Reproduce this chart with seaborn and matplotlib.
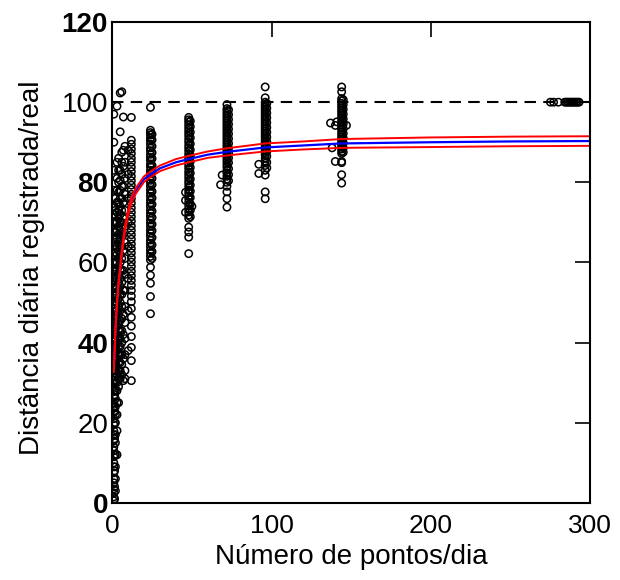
import matplotlib
matplotlib.use("Agg")
import matplotlib.pyplot as plt
import seaborn as sns
import pandas as pd

# número de pontos/dia de cada coluna de pontos
x_cols = [1, 1.5, 2, 3, 4, 5, 6, 7, 8, 10, 12, 24, 25, 48, 49, 72, 73, 96, 97, 144, 145]

# distância diária registrada/real (%), uma lista por coluna
y_1 = [0.5, 1.5, 2.5, 3.5, 5, 6, 7.5, 9, 10, 11.5, 13, 14, 15.5, 17, 18, 19.5, 21, 22.5,
       24, 25, 26.5, 28, 29, 30.5, 31.5, 33, 34, 35, 36.5, 38, 39.5, 41, 43, 45, 47,
       49.5, 52, 55, 58, 62, 66, 70, 74, 78, 83, 90, 97]
y_1b = [1, 4, 8, 12, 16, 20, 23, 27, 30, 32.5, 35.5, 38.5, 42, 44, 46, 48.5, 51, 53.5,
        57, 60, 64, 68, 72]
y_2 = [3, 6, 9, 12, 15, 17, 20, 22, 24, 26, 28, 30, 31.5, 33, 34.5, 36, 37.5, 39, 40.5,
       42, 43.5, 45, 46.5, 48, 50, 52, 54, 56, 58, 60, 62.5, 65, 67.5, 70, 73, 76]
y_3 = [12, 18, 22, 25, 28, 30, 32, 34, 36, 38, 40, 42, 44, 46, 48, 50, 52, 54, 56, 58,
       60, 62, 64, 66, 68, 70, 72.5, 75, 78, 81, 85, 99]
y_4 = [25, 29, 31, 33, 35, 37, 39, 41, 43, 45, 47, 49, 51, 53, 55, 57, 59, 61, 63, 65,
       67, 69, 71, 73, 75, 77.5, 80, 83, 86]
y_5 = [31, 33, 35, 37, 39, 41, 43, 45.5, 48, 50, 52, 54, 56, 58, 60, 62, 64, 66, 68, 70,
       72, 74, 76, 78, 80.5, 83, 92.6, 102.3]
y_6 = [32, 34.5, 37, 40, 43, 46, 49, 52, 55, 58, 61, 64, 67, 70, 73, 76, 79, 82, 85,
       87.5, 102.6]
y_7 = [30.5, 36, 42, 47, 53, 58, 63, 67, 71, 75, 79, 84, 88, 96.3]
y_8 = [31, 33, 37, 41, 45, 49, 53, 57, 61, 65, 69, 73, 77, 81, 85, 89]
y_10 = [38, 48, 56, 64, 70, 76, 82, 88]
y_12 = [96.2, 90.5, 89.5, 88.3, 87.2, 86.0, 85.0, 83.8, 82.7, 81.5, 80.4, 79.3, 78.2,
        77.0, 75.9, 74.8, 73.6, 72.5, 71.4, 70.3, 69.1, 68.0, 66.9, 65.8, 64.6, 63.5,
        62.4, 61.2, 60.1, 59.0, 57.8, 56.7, 55.5, 54.3, 53.0, 51.6, 50.2, 48.5, 46.3,
        44.1, 41.5, 38.8, 35.5, 30.5]
y_24 = [98.7, 93.0, 92.4, 91.8, 91.0, 90.3, 89.5, 88.6, 87.9, 87.0, 86.2, 85.5, 84.6,
        83.9, 83.0, 82.2, 81.4, 80.5, 79.8, 79.0, 78.1, 77.3, 76.5, 75.6, 74.8, 74.0,
        73.1, 72.3, 71.5, 70.6, 69.8, 69.0, 68.1, 67.3, 66.5, 65.6, 64.8, 64.0, 63.1,
        62.3, 61.5, 60.6, 58.8, 56.8, 54.8, 51.5, 47.2]
y_24b = [92.0, 90.6, 89.0, 87.4, 85.9, 84.2, 82.6, 81.0, 79.4, 77.7, 76.1, 74.5, 72.8,
         71.2, 69.5, 67.9, 66.2, 64.4, 62.7, 61.0]
y_48 = [96.2, 95.6, 95.0, 94.3, 93.6, 92.9, 92.2, 91.5, 90.7, 90.0, 89.2, 88.5, 87.8,
        87.0, 86.3, 85.6, 84.8, 84.1, 83.4, 82.6, 81.9, 81.2, 80.4, 79.7, 78.9, 78.1,
        77.4, 76.6, 75.9, 75.0, 74.2, 73.4, 72.6, 71.8, 71.0, 68.8, 67.6, 66.3, 62.2]
y_48b = [95.3, 93.9, 92.5, 91.1, 89.6, 88.1, 86.7, 85.2, 83.7, 82.3, 80.8, 79.3, 77.8,
         76.2, 74.6, 73.0, 71.4]
y_72 = [99.4, 98.4, 97.8, 97.2, 96.6, 96.0, 95.4, 94.8, 94.2, 93.6, 93.0, 92.4, 91.8,
        91.2, 90.6, 90.0, 89.4, 88.8, 88.2, 87.6, 87.0, 86.4, 85.8, 85.2, 84.5, 83.8,
        83.0, 82.3, 81.5, 80.8, 80.0, 79.0, 77.6, 75.9, 73.8]
y_72b = [98.1, 96.9, 95.7, 94.5, 93.3, 92.1, 90.9, 89.7, 88.5, 87.3, 86.1, 84.9, 83.4,
         81.9, 80.4]
y_96 = [103.8, 101.1, 100.0, 99.4, 98.8, 98.2, 97.6, 97.0, 96.4, 95.8, 95.2, 94.6, 94.0,
        93.4, 92.8, 92.2, 91.6, 91.0, 90.4, 89.8, 89.2, 88.6, 88.0, 87.4, 86.8, 86.0,
        85.2, 84.2, 83.0, 81.8, 77.6, 75.9]
y_96b = [99.7, 98.5, 97.3, 96.1, 94.9, 93.7, 92.5, 91.3, 90.1, 88.9, 87.7, 86.5, 85.0,
         83.6]
y_144 = [103.8, 102.6, 100.9, 100.3, 99.7, 99.1, 98.5, 97.9, 97.3, 96.7, 96.1, 95.5,
         94.9, 94.3, 93.7, 93.1, 92.5, 91.9, 91.3, 90.7, 90.1, 89.5, 88.9, 88.3, 87.7,
         87.2, 85.2, 84.9, 81.9, 79.8]
y_144b = [100.6, 99.4, 98.2, 97.0, 95.8, 94.6, 93.4, 92.2, 91.0, 89.8, 88.6, 87.5]

# pontos fora das colunas
extra_x = [46, 46, 46, 50, 69, 68, 92, 92, 137, 140, 141, 147, 138, 140]
extra_y = [77.5, 75.5, 72.5, 74.0, 81.8, 79.4, 84.5, 82.2, 94.8, 94.2, 95.1, 94.2, 88.6, 85.2]

# grupo com ~288 pontos/dia, todos em 100
top_x = [275, 277, 280, 284, 285, 286, 287, 288, 289, 290, 291, 292, 293]
top_y = [100] * len(top_x)

# curva ajustada e intervalo de confiança
fit_x = [1, 1.5, 2, 3, 4, 5, 6, 8, 10, 12, 15, 20, 24, 30, 40, 48, 60, 72, 96, 120,
         144, 200, 250, 300]
fit_y = [33, 38, 43, 50, 55, 58.5, 62.5, 68.5, 72.5, 75.5, 78, 80.8, 82, 83.5, 85, 85.8,
         86.9, 87.6, 88.7, 89.2, 89.7, 90.0, 90.2, 90.3]
fit_hi = [33.4, 38.5, 43.5, 50.6, 55.6, 59.1, 63.2, 69.2, 73.2, 76.2, 78.7, 81.5, 82.7,
          84.2, 85.8, 86.6, 87.7, 88.5, 89.7, 90.2, 90.8, 91.2, 91.4, 91.5]
fit_lo = [32.6, 37.5, 42.5, 49.4, 54.4, 57.9, 61.8, 67.8, 71.8, 74.8, 77.3, 80.1, 81.3,
          82.8, 84.2, 85.0, 86.1, 86.7, 87.7, 88.2, 88.6, 88.8, 89.0, 89.1]

y_cols = [y_1, y_1b, y_2, y_3, y_4, y_5, y_6, y_7, y_8, y_10, y_12, y_24, y_24b,
          y_48, y_48b, y_72, y_72b, y_96, y_96b, y_144, y_144b]

xs, ys = [], []
for xc, yc in zip(x_cols, y_cols):
    xs += [xc] * len(yc)
    ys += yc
xs += extra_x + top_x
ys += extra_y + top_y
df = pd.DataFrame({"pontos": xs, "dist": ys})

sns.set_style("white")
plt.rcParams['font.family'] = ['Liberation Sans', 'DejaVu Sans']
plt.rcParams['text.color'] = 'black'
plt.rcParams['axes.labelcolor'] = 'black'

fig = plt.figure(figsize=(6.2, 5.8), dpi=100)
ax = fig.add_axes([0.181, 0.133, 0.771, 0.829])

sns.scatterplot(data=df, x="pontos", y="dist", marker="o", s=28,
                facecolor="none", edgecolor="black", linewidth=1.1, ax=ax)
ax.axhline(100, color="black", lw=1.5, dashes=(5.5, 3.5), zorder=1)
sns.lineplot(x=fit_x, y=fit_y, color="blue", lw=1.6, ax=ax)
sns.lineplot(x=fit_x, y=fit_hi, color="red", lw=1.4, ax=ax)
sns.lineplot(x=fit_x, y=fit_lo, color="red", lw=1.4, ax=ax)

ax.set_xlim(0, 300)
ax.set_ylim(0, 120)
ax.set_xticks([0, 100, 200, 300])
ax.set_yticks([0, 20, 40, 60, 80, 100, 120])
ax.tick_params(direction="in", length=11, width=1.2, top=True, right=True,
               labelsize=19, colors="black")
ax.tick_params(axis="x", pad=8)
ax.tick_params(axis="y", pad=3, labelsize=20)
for i, lab in enumerate(ax.get_yticklabels()):
    if i % 2 == 0:
        lab.set_fontweight("bold")
for sp in ax.spines.values():
    sp.set_linewidth(1.5)
    sp.set_color("black")

ax.set_xlabel("Número de pontos/dia", fontsize=20, labelpad=4, color="black")
ax.set_ylabel("Distância diária registrada/real", fontsize=20, color="black")
ax.yaxis.set_label_coords(-0.14, 0.49)

fig.savefig("out.png", dpi=100)
